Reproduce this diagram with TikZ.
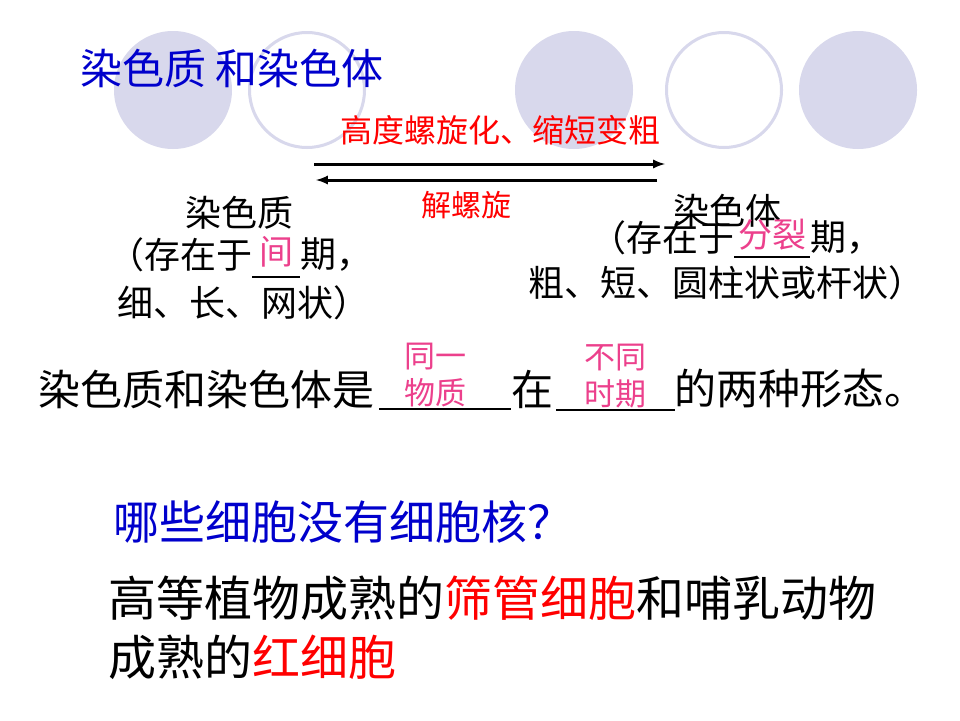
\documentclass[tikz,border=0pt]{standalone}
\usepackage{fontspec}
\setmainfont{Noto Sans CJK SC}
\usetikzlibrary{positioning}
\definecolor{dotfill}{RGB}{216,216,236}
\definecolor{titleblue}{RGB}{0,0,204}
\definecolor{hired}{RGB}{255,0,0}
\definecolor{fillpink}{RGB}{236,64,140}
\newcommand{\cnsize}[2]{\fontsize{#1}{#2}\selectfont}

\begin{document}
\begin{tikzpicture}[
    x=1pt, y=-1pt,
    dot/.style={circle, fill=dotfill, minimum size=118pt, inner sep=0pt},
    ring/.style={circle, draw=dotfill, line width=3pt, minimum size=115pt, inner sep=0pt},
    txt/.style={inner sep=0pt, anchor=west, font=\cnsize{36}{40}},
    big/.style={inner sep=0pt, anchor=west, font=\cnsize{42}{50}},
    redtxt/.style={inner sep=0pt, text=hired},
    blank/.style={inner sep=0pt, minimum width=#1},
    ans/.style={inner sep=0pt, text=fillpink, align=center, font=\cnsize{31}{37}},
    uline/.style={line width=1.5pt},
    arrow/.style={-latex, line width=3pt}
]
\fill[white] (0,0) rectangle (960,720);
\useasboundingbox (0,0) rectangle (960,720);

% background circles
\foreach \cx in {173,574,858}
  \node[dot] (dot\cx) at (\cx,90) {};
\foreach \cx in {307,724}
  \node[ring] (ring\cx) at (\cx,90) {};

\node[txt, text=titleblue, font=\cnsize{42}{48}] (title) at (80,68) {染色质 和染色体};

% the two forms
\node[redtxt, font=\cnsize{32}{36}] (coil) at (500,130) {高度螺旋化、缩短变粗};
\coordinate (fwdA) at (314,164);
\coordinate (fwdB) at (665,164);
\coordinate (bckA) at (657,180);
\coordinate (bckB) at (316,180);
\draw[arrow] (fwdA) -- (fwdB);
\draw[arrow] (bckA) -- (bckB);
\node[redtxt, font=\cnsize{30}{36}] (uncoil) at (466,205) {解螺旋};

\node[txt, anchor=center] (chromatin) at (239,213) {染色质};
\node[txt] (lin2a) at (108,255) {（存在于};
\node[blank=47pt, minimum height=44pt, right=0pt of lin2a] (gapI) {};
\node[txt, right=0pt of gapI] (lin2b) {期，};
\node[ans, font=\cnsize{34}{40}, above=10pt of gapI.south] (ansI) {间};
\node[txt] (lin3) at (117,303) {细、长、网状）};

\node[txt, anchor=center] (chromo) at (727,211) {染色体};
\node[txt] (rin2a) at (590,238) {（存在于};
\node[blank=75pt, minimum height=38pt, right=0pt of rin2a] (gapF) {};
\node[txt, right=0pt of gapF] (rin2b) {期，};
\node[ans, font=\cnsize{34}{40}, above=7pt of gapF.south] (ansF) {分裂};
\node[txt] (rin3) at (528,283) {粗、短、圆柱状或杆状）};

\draw[uline] (gapI.south west) -- (gapI.south east);
\draw[uline] (gapF.south west) -- (gapF.south east);

% sentence with blanks
\node[big] (s1) at (38,389) {染色质和染色体是};
\node[blank=131pt, minimum height=40pt, right=5pt of s1] (b1) {};
\node[big, right=0pt of b1] (s2) {在};
\node[blank=118pt, minimum height=42pt, right=3pt of s2] (b2) {};
\node[big, right=0pt of b2] (s3) {的两种形态。};
\draw[uline] (b1.south west) -- (b1.south east);
\draw[uline] (b2.south west) -- (b2.south east);
\node[ans, above=2pt of b1.south, xshift=-10pt] (ans1) {同一\\物质};
\node[ans, above=2pt of b2.south] (ans2) {不同\\时期};

% question
\node[big, text=titleblue, font=\cnsize{46}{52}] (ask) at (113,522) {哪些细胞没有细胞核？};
\node[big, font=\cnsize{48}{56}] (reply1) at (108,598) {高等植物成熟的\textcolor{hired}{筛管细胞}和哺乳动物};
\node[big, font=\cnsize{48}{56}] (reply2) at (108,657) {成熟的\textcolor{hired}{红细胞}};
\end{tikzpicture}
\end{document}
